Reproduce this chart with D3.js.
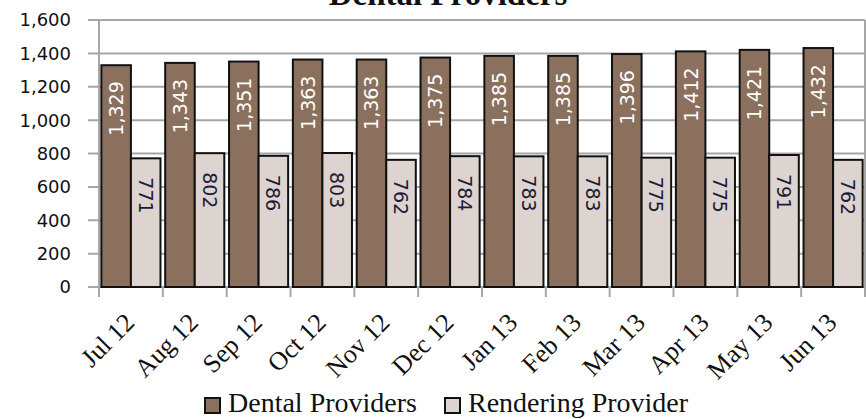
<!DOCTYPE html>
<html><head><meta charset="utf-8">
<script src="https://cdn.jsdelivr.net/npm/d3@7"></script>
<style>body{margin:0;background:#fff}</style>
</head><body>
<svg id="c" width="866" height="419"></svg>
<script>
const months = ["Jul 12","Aug 12","Sep 12","Oct 12","Nov 12","Dec 12","Jan 13","Feb 13","Mar 13","Apr 13","May 13","Jun 13"];
const dental = [1329,1343,1351,1363,1363,1375,1385,1385,1396,1412,1421,1432];
const rendering = [771,802,786,803,762,784,783,783,775,775,791,762];
const seriesNames = ["Dental Providers","Rendering Provider"];
const yTicks = [0,200,400,600,800,1000,1200,1400,1600];
const colors = ["#8b705e","#ddd4d0"];

const svg = d3.select("#c");
const L = 99, R = 865, T = 20, B = 287;
const x = d3.scaleBand().domain(months).range([L, R]).paddingInner(0).paddingOuter(0);
const x1 = d3.scaleBand().domain(seriesNames).range([0, x.bandwidth()]).paddingInner(0).paddingOuter(0.08);
const y = d3.scaleLinear().domain([0,1600]).range([B, T]);
const fmt = d3.format(",");

// title
svg.append("text").attr("x", 448).attr("y", 5).attr("text-anchor","middle")
  .attr("font-family","Liberation Serif").attr("font-weight","bold").attr("font-size",33)
  .attr("fill","#111").text("Dental Providers");

// gridlines
svg.append("g").selectAll("line").data(yTicks).join("line")
  .attr("x1", 88).attr("x2", R).attr("y1", d=>y(d)).attr("y2", d=>y(d))
  .attr("stroke","#a6a6a6").attr("stroke-width",2);
// left & right borders
svg.append("line").attr("x1",L).attr("x2",L).attr("y1",T).attr("y2",B+10).attr("stroke","#a6a6a6").attr("stroke-width",2);
svg.append("line").attr("x1",R).attr("x2",R).attr("y1",T).attr("y2",B+10).attr("stroke","#a6a6a6").attr("stroke-width",2);
// x ticks at boundaries
const bounds = months.map(m => x(m)).concat([R]);
svg.append("g").selectAll("line").data(bounds).join("line")
  .attr("x1",d=>d).attr("x2",d=>d).attr("y1",B).attr("y2",B+10)
  .attr("stroke","#a6a6a6").attr("stroke-width",2);

// y labels
svg.append("g").selectAll("text").data(yTicks).join("text")
  .attr("x", 71).attr("y", d=>y(d)).attr("dy","0.36em").attr("text-anchor","end")
  .attr("font-family","DejaVu Sans").attr("font-size",18).attr("fill","#111")
  .text(d=>fmt(d));

// bars
const rows = months.map((m,i)=>({m, vals:[dental[i], rendering[i]]}));
const g = svg.append("g").selectAll("g").data(rows).join("g").attr("transform", d=>`translate(${x(d.m)},0)`);
g.selectAll("rect").data(d=>d.vals.map((v,j)=>({v, s:seriesNames[j], j}))).join("rect")
  .attr("x", d=>x1(d.s)).attr("width", x1.bandwidth())
  .attr("y", d=>y(d.v)).attr("height", d=>y(0)-y(d.v))
  .attr("fill", d=>colors[d.j]).attr("stroke","#111").attr("stroke-width",2);

// data labels
g.selectAll("text").data(d=>d.vals.map((v,j)=>({v, s:seriesNames[j], j}))).join("text")
  .attr("transform", d=>{
    const cx = x1(d.s) + x1.bandwidth()/2;
    return d.j===0 ? `translate(${cx},${y(d.v)+16}) rotate(-90)` : `translate(${cx},${y(d.v)+19}) rotate(90)`;
  })
  .attr("text-anchor", d=>d.j===0 ? "end" : "start")
  .attr("dominant-baseline","central")
  .attr("font-family","DejaVu Sans").attr("font-size",19)
  .attr("fill", d=>d.j===0 ? "#fff" : "#1c1c3a")
  .text(d=>fmt(d.v));

// x labels
svg.append("g").selectAll("text").data(months).join("text")
  .attr("transform", m=>`translate(${x(m)+x.bandwidth()/2+5},324) rotate(-45)`)
  .attr("text-anchor","end")
  .attr("font-family","Liberation Serif").attr("font-size",26).attr("fill","#111")
  .text(m=>m);

// legend
const legX = [205, 445];
const lg = svg.append("g").selectAll("g").data(seriesNames).join("g");
lg.append("rect").attr("x",(d,i)=>legX[i]).attr("y",398).attr("width",15).attr("height",15)
  .attr("fill",(d,i)=>colors[i]).attr("stroke","#111").attr("stroke-width",2);
lg.append("text").attr("x",(d,i)=>legX[i]+23).attr("y",412)
  .attr("font-family","Liberation Serif").attr("font-size",28).attr("fill","#111")
  .text(d=>d);
</script>
</body></html>
